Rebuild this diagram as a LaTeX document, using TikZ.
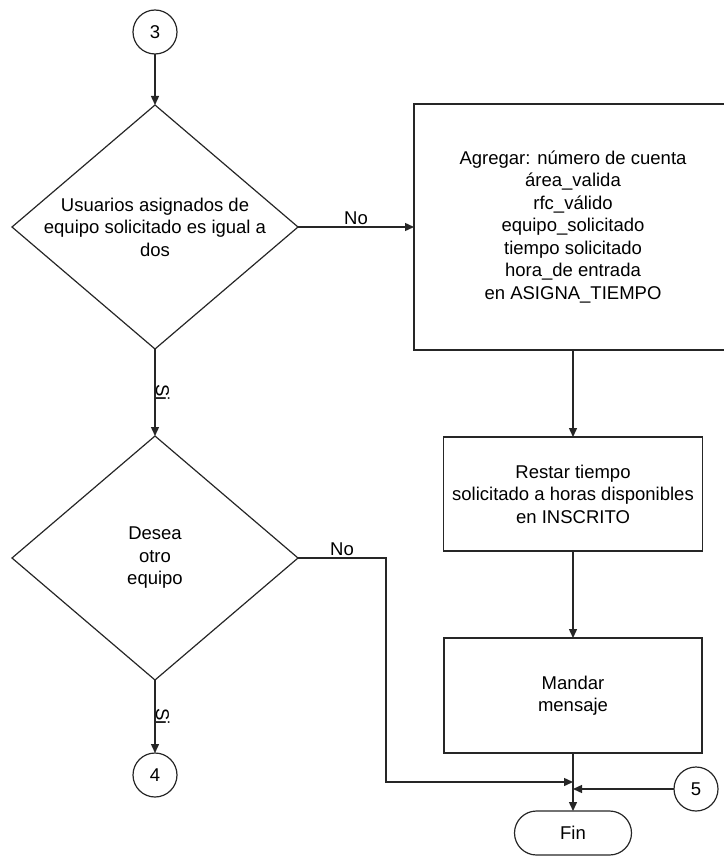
\documentclass[tikz,border=0pt]{standalone}
\usepackage{fontspec}
\setmainfont{Liberation Sans}
\usetikzlibrary{shapes.geometric,arrows.meta}
\begin{document}
\begin{tikzpicture}[x=1pt,y=-1pt,
  every node/.style={font=\fontsize{18.5}{22.5}\selectfont, outer sep=0pt},
  line/.style={line width=1.4pt, draw=black!85},
  flow/.style={line, -{Triangle[length=9pt,width=8pt]}},
  decision/.style={diamond, draw=black!85, line width=1.2pt, minimum width=286pt,
    minimum height=244pt, inner sep=0pt},
  dtext/.style={align=center, inner sep=0pt},
  process/.style={rectangle, draw=black!85, line width=1.6pt, align=center},
  connector/.style={circle, draw=black!85, line width=1.2pt, minimum size=44pt, inner sep=0pt},
  terminal/.style={rectangle, rounded corners=22pt, draw=black!85, line width=1.2pt,
    minimum width=117pt, minimum height=44pt},
  lbl/.style={inner sep=2pt},
  vlbl/.style={inner sep=1pt, rotate=-90, anchor=south}
]
\useasboundingbox (0,0) rectangle (723,856);

% connectors and decisions on the left column
\node[connector] (c3) at (155,32) {3};
\node[decision] (d1) at (155,227) {};
\node[dtext] at (d1.center) {Usuarios asignados de\\equipo solicitado es igual a\\dos};
\node[decision] (d2) at (155,558) {};
\node[dtext] at (d2.center) {Desea\\otro\\equipo};
\node[connector] (c4) at (155,775) {4};

% process boxes on the right column
\node[process, minimum width=318pt, minimum height=246pt] (b1) at (573,227)
  {Agregar: número de cuenta\\área\_valida\\rfc\_válido\\equipo\_solicitado\\tiempo solicitado\\hora\_de entrada\\en ASIGNA\_TIEMPO};
\node[process, minimum width=259pt, minimum height=114pt] (b2) at (573,494)
  {Restar tiempo\\solicitado a horas disponibles\\en INSCRITO};
\node[process, minimum width=258pt, minimum height=115pt] (b3) at (573,695.5)
  {Mandar\\mensaje};
\node[terminal] (fin) at (573,833) {Fin};
\node[connector] (c5) at (696,789) {5};

% routing points
\coordinate (k1) at (386,558);
\coordinate (k2) at (386,782);
\coordinate (j1) at (573,782);
\coordinate (j2) at (573,789);

% flow lines
\draw[flow] (c3) -- (d1.north);
\draw[flow] (d1.east) -- node[midway, above, lbl] {No} (b1.west);
\draw[flow] (d1.south) -- node[midway, vlbl] {Si} (d2.north);
\draw[flow] (d2.south) -- node[midway, vlbl] {Si} (c4.north);
\draw[flow] (d2.east) -- node[midway, above, lbl] {No} (k1) -- (k2) -- (j1);
\draw[flow] (b1.south) -- (b2.north);
\draw[flow] (b2.south) -- (b3.north);
\draw[flow] (b3.south) -- (fin.north);
\draw[flow] (c5.west) -- (j2);
\end{tikzpicture}
\end{document}
